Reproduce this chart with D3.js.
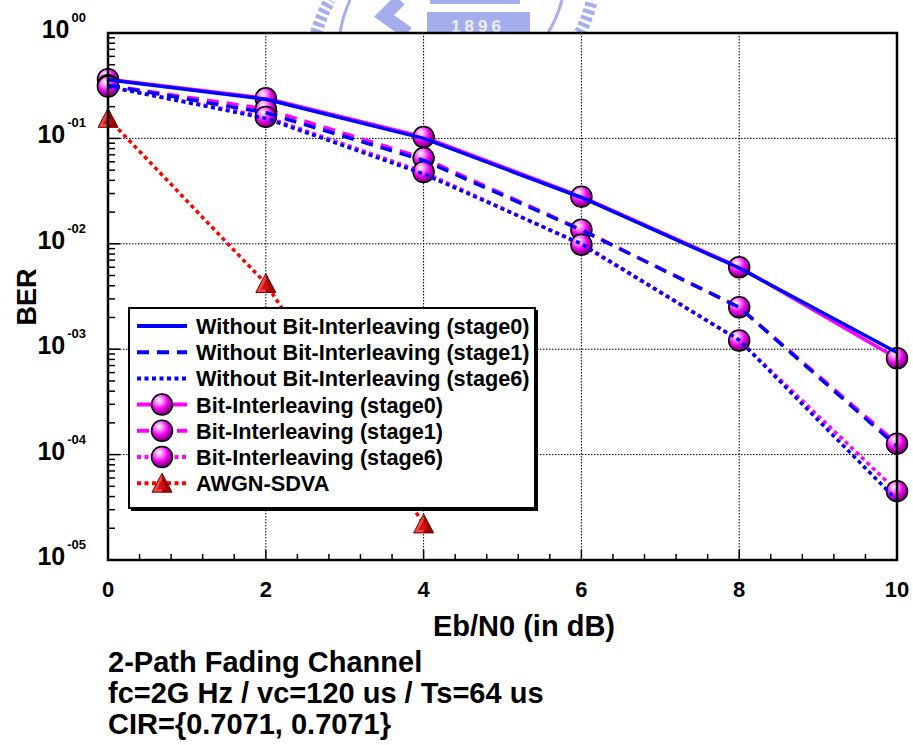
<!DOCTYPE html>
<html>
<head>
<meta charset="utf-8">
<script src="https://cdn.jsdelivr.net/npm/d3@7"></script>
<style>
  body { margin: 0; background: #fff; }
  text { font-family: "Liberation Sans", Arial, sans-serif; font-weight: bold; fill: #000; }
</style>
</head>
<body>
<div id="chart"></div>
<script>
// Eb/N0 points (dB)
var snr = [0, 2, 4, 6, 8, 10]
var snrAwgn = [0, 2, 4]

// BER
var woStage0 = [0.36, 0.235, 0.100, 0.0275, 0.0059, 0.00093]
var woStage1 = [0.32, 0.175, 0.062, 0.0135, 0.0025, 0.000120]
var woStage6 = [0.31, 0.155, 0.046, 0.0100, 0.00122, 0.000037]
var biStage0 = [0.365, 0.240, 0.103, 0.0280, 0.0060, 0.00082]
var biStage1 = [0.32, 0.190, 0.065, 0.0136, 0.0025, 0.000127]
var biStage6 = [0.31, 0.160, 0.048, 0.0098, 0.00121, 0.000045]
var awgn = [0.155, 0.0042, 0.000022]

var xTicks = [0, 2, 4, 6, 8, 10]
var yExps = [0, -1, -2, -3, -4, -5]
var legendLabels = [
  'Without Bit-Interleaving (stage0)',
  'Without Bit-Interleaving (stage1)',
  'Without Bit-Interleaving (stage6)',
  'Bit-Interleaving (stage0)',
  'Bit-Interleaving (stage1)',
  'Bit-Interleaving (stage6)',
  'AWGN-SDVA'
]
var captionLines = [
  '2-Path Fading Channel',
  'fc=2G Hz / vc=120 us / Ts=64 us',
  'CIR={0.7071, 0.7071}'
]

var width = 913, height = 745
// plot box (window.top is read-only, so no bare "top")
var pL = 108, pR = 897, pT = 33, pB = 560

var svg = d3.select('#chart').append('svg')
  .attr('width', width)
  .attr('height', height)

var defs = svg.append('defs')
var grad = defs.append('radialGradient').attr('id', 'ball')
  .attr('cx', '40%').attr('cy', '35%').attr('r', '65%').attr('fx', '35%').attr('fy', '28%')
grad.append('stop').attr('offset', '0%').attr('stop-color', '#ffffff')
grad.append('stop').attr('offset', '25%').attr('stop-color', '#ff9cff')
grad.append('stop').attr('offset', '60%').attr('stop-color', '#f000f0')
grad.append('stop').attr('offset', '100%').attr('stop-color', '#6a006a')

// faint school logo behind the top of the chart
var logoColor = '#a4aeec'
var logo = svg.append('g')
logo.append('path')
  .attr('d', 'M316,33 A150,150 0 0 1 330,0')
  .attr('fill', 'none').attr('stroke', logoColor).attr('stroke-width', 12)
  .attr('stroke-dasharray', '4,3')
logo.append('path')
  .attr('d', 'M340,33 A130,130 0 0 1 350,0')
  .attr('fill', 'none').attr('stroke', logoColor).attr('stroke-width', 3)
logo.append('path')
  .attr('d', 'M400,0 L384,16 L408,33')
  .attr('fill', 'none').attr('stroke', logoColor).attr('stroke-width', 13)
logo.append('rect').attr('x', 427).attr('y', 12).attr('width', 103).attr('height', 22).attr('fill', logoColor)
logo.append('rect').attr('x', 430).attr('y', 0).attr('width', 90).attr('height', 4).attr('fill', logoColor)
logo.append('text').attr('x', 478).attr('y', 32).attr('text-anchor', 'middle')
  .style('font-size', '17px').style('fill', '#eef0ff').style('letter-spacing', '4px').text('1896')
logo.append('path')
  .attr('d', 'M548,33 A130,130 0 0 0 562,0')
  .attr('fill', 'none').attr('stroke', logoColor).attr('stroke-width', 3)
logo.append('path')
  .attr('d', 'M580,33 A150,150 0 0 0 592,0')
  .attr('fill', 'none').attr('stroke', logoColor).attr('stroke-width', 12)
  .attr('stroke-dasharray', '4,3')

var x = d3.scaleLinear().domain([0, 10]).range([pL, pR])
var y = d3.scaleLog().domain([1e-5, 1]).range([pB, pT])

svg.append('rect').attr('x', pL).attr('y', pT)
  .attr('width', pR - pL).attr('height', pB - pT).attr('fill', '#fff')

// grid
var grid = svg.append('g').attr('stroke', '#000').attr('stroke-width', 1).attr('stroke-dasharray', '1.5,1.5')
grid.selectAll('.gx').data(xTicks.slice(1, -1)).enter().append('line')
  .attr('x1', function (d) { return x(d) }).attr('x2', function (d) { return x(d) })
  .attr('y1', pT).attr('y2', pB)
grid.selectAll('.gy').data(yExps.slice(1, -1)).enter().append('line')
  .attr('x1', pL).attr('x2', pR)
  .attr('y1', function (d) { return y(Math.pow(10, d)) })
  .attr('y2', function (d) { return y(Math.pow(10, d)) })

// minor ticks
var ticks = svg.append('g').attr('stroke', '#000').attr('stroke-width', 1.5)
var yMinor = []
for (var e = -5; e < 0; e++) {
  for (var m = 1; m < 10; m++) yMinor.push(m * Math.pow(10, e))
}
ticks.selectAll('.ym').data(yMinor).enter().append('line')
  .attr('x1', pL).attr('x2', function (d, i) { return i % 9 == 0 ? pL + 12 : pL + 7 })
  .attr('y1', function (d) { return y(d) }).attr('y2', function (d) { return y(d) })
ticks.selectAll('.xm').data(d3.range(0, 26)).enter().append('line')
  .attr('x1', function (d) { return x(d * 0.4) }).attr('x2', function (d) { return x(d * 0.4) })
  .attr('y1', pB).attr('y2', function (d) { return (d * 0.4) % 2 < 0.01 ? pB - 10 : pB - 6 })

// tick labels
svg.selectAll('.xl').data(xTicks).enter().append('text')
  .attr('x', function (d) { return x(d) }).attr('y', 597)
  .attr('text-anchor', 'middle').style('font-size', '22px')
  .text(function (d) { return d })

var yl = svg.selectAll('.yl').data(yExps).enter().append('text')
  .attr('x', 86).attr('y', function (d) { return y(Math.pow(10, d)) + 5 })
  .attr('text-anchor', 'end').style('font-size', '25px')
yl.append('tspan').text('10')
yl.append('tspan').attr('dx', 2).attr('dy', -16).style('font-size', '13px')
  .text(function (d) { return d == 0 ? '00' : '-0' + (-d) })

// axis titles
svg.append('text').attr('x', 524).attr('y', 636)
  .attr('text-anchor', 'middle').style('font-size', '29px').text('Eb/N0 (in dB)')
svg.append('text').attr('transform', 'translate(36,297) rotate(-90)')
  .attr('text-anchor', 'middle').style('font-size', '27px').text('BER')

// series
var line = d3.line()
  .x(function (d) { return x(d[0]) })
  .y(function (d) { return y(d[1]) })

function pts(xs, ys) { return xs.map(function (v, i) { return [v, ys[i]] }) }

var series = [
  { data: biStage0, color: '#ff00ff', dash: null },
  { data: biStage1, color: '#ff00ff', dash: '12,8' },
  { data: biStage6, color: '#ff00ff', dash: '4,3.5' }
]
var blue = [
  { data: woStage0, color: '#0000ff', dash: null },
  { data: woStage1, color: '#0000ff', dash: '12,8' },
  { data: woStage6, color: '#0000ff', dash: '4,3.5' }
]

var plot = svg.append('g')
series.forEach(function (s) {
  plot.append('path').attr('d', line(pts(snr, s.data)))
    .attr('fill', 'none').attr('stroke', s.color).attr('stroke-width', 3.5)
    .attr('stroke-dasharray', s.dash)
})

function ball(g, cx, cy) {
  g.append('circle').attr('cx', cx).attr('cy', cy).attr('r', 10.5)
    .attr('fill', 'url(#ball)').attr('stroke', '#000').attr('stroke-width', 1.5)
}
function tri(g, cx, cy) {
  var t = cy - 10, b = cy + 9
  g.append('path').attr('d', 'M' + cx + ',' + t + ' L' + (cx - 10) + ',' + b + ' L' + cx + ',' + b + ' Z')
    .attr('fill', '#f04848')
  g.append('path').attr('d', 'M' + cx + ',' + t + ' L' + (cx + 10) + ',' + b + ' L' + cx + ',' + b + ' Z')
    .attr('fill', '#a00000')
  g.append('path').attr('d', 'M' + cx + ',' + (t + 6) + ' L' + (cx - 5) + ',' + (b - 3) + ' L' + (cx + 4) + ',' + (b - 3) + ' Z')
    .attr('fill', '#d01010')
  g.append('path').attr('d', 'M' + cx + ',' + t + ' L' + (cx - 10) + ',' + b + ' L' + (cx + 10) + ',' + b + ' Z')
    .attr('fill', 'none').attr('stroke', '#700000').attr('stroke-width', 1)
}

series.forEach(function (s) {
  s.data.forEach(function (v, i) { ball(plot, x(snr[i]), y(v)) })
})

blue.forEach(function (s) {
  plot.append('path').attr('d', line(pts(snr, s.data)))
    .attr('fill', 'none').attr('stroke', s.color).attr('stroke-width', 3.5)
    .attr('stroke-dasharray', s.dash)
})

plot.append('path').attr('d', line(pts(snrAwgn, awgn)))
  .attr('fill', 'none').attr('stroke', '#ff0000').attr('stroke-width', 3.5)
  .attr('stroke-dasharray', '4,3.5')
awgn.forEach(function (v, i) { tri(plot, x(snrAwgn[i]), y(v)) })

// frame
svg.append('rect').attr('x', pL).attr('y', pT)
  .attr('width', pR - pL).attr('height', pB - pT)
  .attr('fill', 'none').attr('stroke', '#000').attr('stroke-width', 2.5)

// legend
var lg = svg.append('g')
lg.append('rect').attr('x', 131).attr('y', 310).attr('width', 407).attr('height', 201).attr('fill', '#000')
lg.append('rect').attr('x', 129).attr('y', 308).attr('width', 406).attr('height', 200)
  .attr('fill', '#fff').attr('stroke', '#000').attr('stroke-width', 2)

var legendStyle = [
  { color: '#0000ff', dash: null, mark: null },
  { color: '#0000ff', dash: '12,8', mark: null },
  { color: '#0000ff', dash: '4,3.5', mark: null },
  { color: '#ff00ff', dash: null, mark: 'ball' },
  { color: '#ff00ff', dash: '12,8', mark: 'ball' },
  { color: '#ff00ff', dash: '4,3.5', mark: 'ball' },
  { color: '#ff0000', dash: '4,3.5', mark: 'tri' }
]
legendLabels.forEach(function (label, i) {
  var cy = 326 + i * 26.2
  var st = legendStyle[i]
  lg.append('line').attr('x1', 137).attr('x2', 187).attr('y1', cy).attr('y2', cy)
    .attr('stroke', st.color).attr('stroke-width', 4).attr('stroke-dasharray', st.dash)
  if (st.mark == 'ball') ball(lg, 162, cy)
  if (st.mark == 'tri') tri(lg, 162, cy)
  lg.append('text').attr('x', 196).attr('y', cy + 8).style('font-size', '21.7px').text(label)
})

// caption under the chart
svg.selectAll('.cap').data(captionLines).enter().append('text')
  .attr('x', 108).attr('y', function (d, i) { return 672 + i * 31 })
  .style('font-size', '29px').text(function (d) { return d })
</script>
</body>
</html>
